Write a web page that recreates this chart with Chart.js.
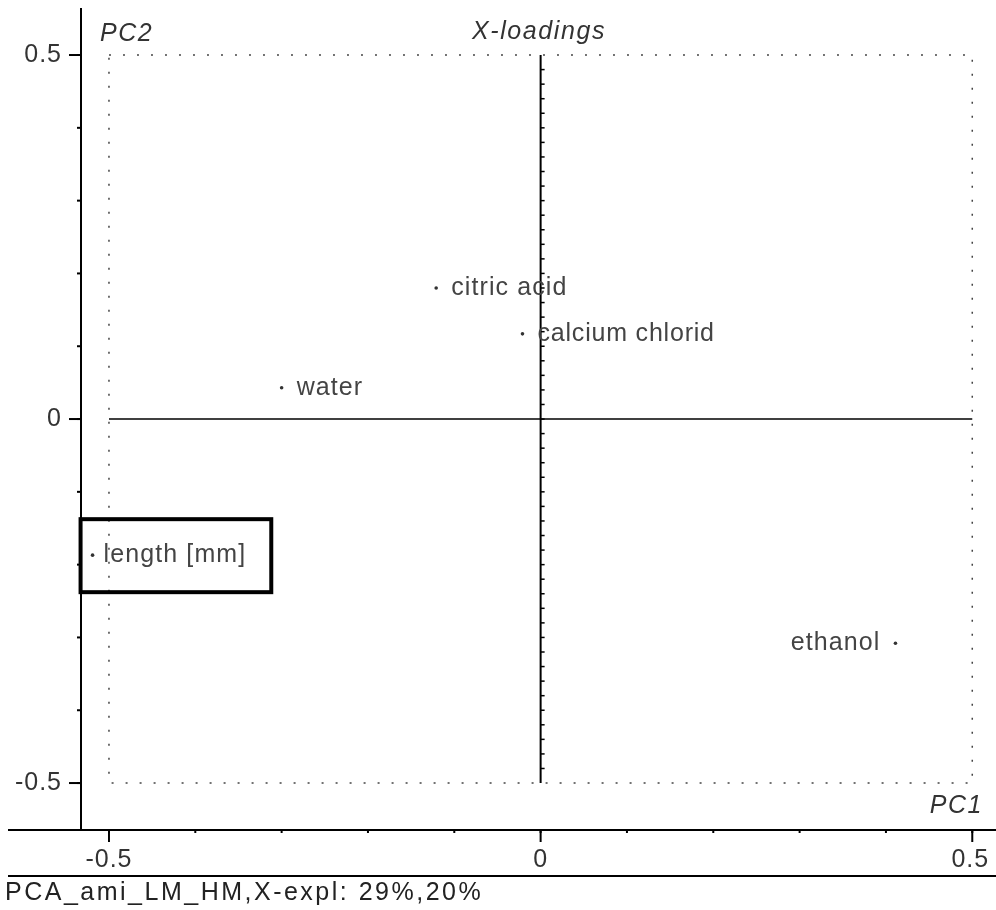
<!DOCTYPE html>
<html>
<head>
<meta charset="utf-8">
<script src="https://cdn.jsdelivr.net/npm/chart.js@4"></script>
<style>
body{margin:0;background:#fff;}
#wrap{width:996px;height:910px;}
</style>
</head>
<body>
<div id="wrap"><canvas id="plot" width="996" height="910"></canvas></div>
<script>

// loadings
const variables = ["citric acid","calcium chlorid","water","length [mm]","ethanol"];
const pc1 = [-0.121,-0.021,-0.300,-0.519,0.411];
const pc2 = [0.180,0.117,0.043,-0.187,-0.308];

const tickValues = [-0.5,0,0.5];
const tickLabels = ["-0.5","0","0.5"];
const footer = "PCA_ami_LM_HM,X-expl: 29%,20%";
const highlighted = "length [mm]";

const FONT = "'Liberation Sans', Arial, sans-serif";


function txt(ctx,str,x,y,align,size,italic,spacing,color){

ctx.save();
ctx.font=(italic?"italic ":"")+size+"px "+FONT;
ctx.letterSpacing=(spacing||0)+"px";
ctx.fillStyle=color||"#444";
ctx.textAlign=align;
ctx.textBaseline="middle";
ctx.fillText(str,x,y);
let w=ctx.measureText(str).width;
ctx.restore();
return w;

}


function line(ctx,x1,y1,x2,y2,w,color){

ctx.beginPath();
ctx.lineWidth=w;
ctx.strokeStyle=color||"#000";
ctx.moveTo(x1,y1);
ctx.lineTo(x2,y2);
ctx.stroke();

}


const frame = {

id:"frame",

beforeDatasetsDraw(chart){

const ctx=chart.ctx;
const xs=chart.scales.x;
const ys=chart.scales.y;
const area=chart.chartArea;

const x0=xs.getPixelForValue(-0.5), x1=xs.getPixelForValue(0.5), xc=xs.getPixelForValue(0);
const y0=ys.getPixelForValue(0.5), y1=ys.getPixelForValue(-0.5), yc=ys.getPixelForValue(0);

ctx.save();

// dotted box
ctx.setLineDash([2,12]);
ctx.lineWidth=1.5;
ctx.strokeStyle="#444";
ctx.strokeRect(x0,y0,x1-x0,y1-y0);
ctx.setLineDash([]);

// centre cross
line(ctx,x0,yc,x1,yc,1.5,"#000");
line(ctx,xc,y0,xc,y1,2,"#000");

for(let v=-0.48;v<0.49;v+=0.02){
let p=ys.getPixelForValue(v);
line(ctx,xc,p,xc+4,p,1.5,"#000");
}

// axes
line(ctx,area.left,area.top,area.left,area.bottom,2,"#000");
line(ctx,8,area.bottom,996,area.bottom,2,"#000");
line(ctx,8,876,996,876,2,"#000");

for(let v=-0.5;v<=0.51;v+=0.1){
let px=xs.getPixelForValue(v);
let py=ys.getPixelForValue(v);
line(ctx,px,area.bottom,px,area.bottom+3,2,"#000");
line(ctx,area.left,py,area.left-4,py,2,"#000");
}

tickValues.forEach((v,i)=>{
let px=xs.getPixelForValue(v);
let py=ys.getPixelForValue(v);
line(ctx,px,area.bottom,px,area.bottom+12,2,"#000");
line(ctx,area.left,py,area.left-12,py,2,"#000");
txt(ctx,tickLabels[i],62,py,"right",25,false,1,"#333");
let lx=i==tickValues.length-1?px-2:px;
txt(ctx,tickLabels[i],lx,860,"center",25,false,1,"#333");
});

txt(ctx,"PC2",100,34,"left",25,true,1.5,"#333");
txt(ctx,"X-loadings",472,32,"left",25,true,1.6,"#333");
txt(ctx,"PC1",983,806,"right",25,true,1.5,"#333");
txt(ctx,footer,5,893,"left",25,false,2.5,"#222");

ctx.restore();

},

afterDatasetsDraw(chart){

const ctx=chart.ctx;
const meta=chart.getDatasetMeta(0);

meta.data.forEach((pt,i)=>{

let name=variables[i];

if(pc1[i]>0.3){
txt(ctx,name,pt.x-15,pt.y,"right",25,false,1.1,"#444");
return;
}

let gap=name==highlighted?11:15;
let sp=name.length>12?0.8:1.1;
let w=txt(ctx,name,pt.x+gap,pt.y,"left",25,false,sp,"#444");

if(name==highlighted){
ctx.save();
ctx.lineWidth=4;
ctx.strokeStyle="#000";
ctx.strokeRect(pt.x-12,pt.y-36,gap+w+37,73);
ctx.restore();
}

});

}

};


new Chart(document.getElementById("plot"),{

type:"scatter",

data:{
datasets:[{
label:"X-loadings",
data:pc1.map((v,i)=>({x:v,y:pc2[i]})),
pointRadius:1.8,
pointHoverRadius:1.8,
pointBackgroundColor:"#333",
pointBorderWidth:0
}]
},

options:{
responsive:false,
animation:false,
layout:{padding:{left:81,right:0,top:8,bottom:80}},
plugins:{legend:{display:false},tooltip:{enabled:false}},
scales:{
x:{type:"linear",min:-0.5324,max:0.5254,display:false},
y:{type:"linear",min:-0.5645,max:0.5646,display:false}
}
},

plugins:[frame]

});

</script>
</body>
</html>
